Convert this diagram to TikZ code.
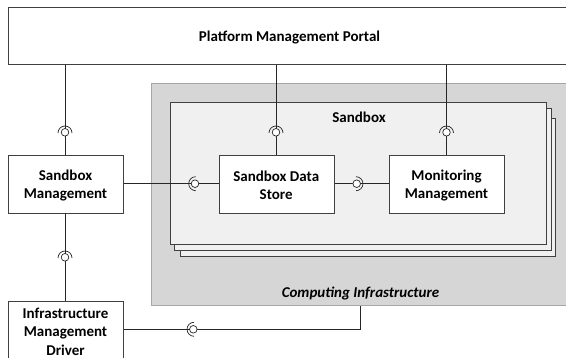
\documentclass[tikz,border=0pt]{standalone}
\usepackage{fontspec}
\setmainfont{Carlito}
\begin{document}
\begin{tikzpicture}[x=1pt,y=-1pt,
  box/.style={draw=black!75,line width=1pt,fill=white,inner sep=0pt,anchor=north west},
  lab/.style={align=center,inner sep=0pt,font=\fontsize{15}{18.5}\selectfont\bfseries},
  wire/.style={draw=black!85,line width=0.8pt},
  sock/.style={draw=black!85,line width=0.7pt,fill=none},
  ball/.style={draw=black!85,line width=0.7pt,fill=white}]
\useasboundingbox (0,0) rectangle (566,358);
\fill[white] (0,0) rectangle (566,358);
\node[box,minimum width=562pt,minimum height=57pt] (portal) at (7.5,7.5) {};
\node[lab] (portaltext) at (289.5,37.5) {Platform Management Portal};
\draw[draw=black!35,fill=black!16,line width=1pt] (151.7,83.7) rectangle (570,306);
\node[lab,font=\fontsize{15}{18}\selectfont\bfseries\itshape] (ci) at (360.5,293.5) {Computing Infrastructure};
\draw[draw=black!75,fill=black!6,line width=0.8pt] (180.3,118.5) rectangle (555.7,256);
\draw[draw=black!75,fill=black!6,line width=0.8pt] (174.3,108.9) rectangle (551.7,250);
\draw[draw=black!75,fill=black!6,line width=0.8pt] (170.7,102.8) rectangle (546,244.3);
\node[lab] (sb) at (359,117.5) {Sandbox};
\node[box,minimum width=115pt,minimum height=57.7pt] (mgmt) at (8,155) {};
\node[box,minimum width=115pt,minimum height=57.7pt] (store) at (218.7,155) {};
\node[box,minimum width=115pt,minimum height=57.7pt] (mon) at (389,155) {};
\node[box,minimum width=115pt,minimum height=60pt] (infra) at (8,301) {};
\node[lab] (mgmttext) at (65.5,185.3) {Sandbox\\Management};
\node[lab] (storetext) at (276.2,185.3) {Sandbox Data\\Store};
\node[lab] (montext) at (446.5,185.3) {Monitoring\\Management};
\node[lab] (infratext) at (65.5,331.8) {Infrastructure\\Management\\Driver};
\coordinate (p1) at (65,64.7);
\coordinate (p2) at (276,64.7);
\coordinate (p3) at (446.5,64.7);
\coordinate (m1) at (65,155);
\coordinate (s1) at (276,155);
\coordinate (o1) at (446.5,155);
\coordinate (m2) at (65,212.7);
\coordinate (i1) at (65,301);
\coordinate (cib) at (360.3,306);
\coordinate (cic) at (360.3,329.3);
\draw[wire] (p1) -- (m1);
\draw[wire] (p2) -- (s1);
\draw[wire] (p3) -- (o1);
\draw[wire] (m2) -- (i1);
\draw[wire] (mgmt.east |- 0,183.7) -- (store.west |- 0,183.7);
\draw[wire] (store.east |- 0,183.7) -- (mon.west |- 0,183.7);
\draw[wire] (infra.east |- 0,329.3) -- (cic) -- (cib);
\foreach \n/\x/\y in {a/65/132.3,b/276/132.3,c/446.5/132.3,d/65/257.3,e/195/183.7,f/356.7/183.7,g/193.3/329.3}{
  \coordinate (\n) at (\x,\y);
  \draw[ball] (\n) circle (3.8pt);
}
\foreach \x/\y in {65/133,276/133,446.5/133,65/258}{
  \draw[sock] (\x,\y) ++(-7,0) arc[start angle=180,end angle=0,radius=7pt];
}
\draw[sock] (195.7,183.7) ++(0,-7) arc[start angle=90,end angle=270,radius=7pt];
\draw[sock] (194,329.3) ++(0,-7) arc[start angle=90,end angle=270,radius=7pt];
\draw[sock] (356,183.7) ++(0,-7) arc[start angle=90,end angle=-90,radius=7pt];
\end{tikzpicture}
\end{document}
